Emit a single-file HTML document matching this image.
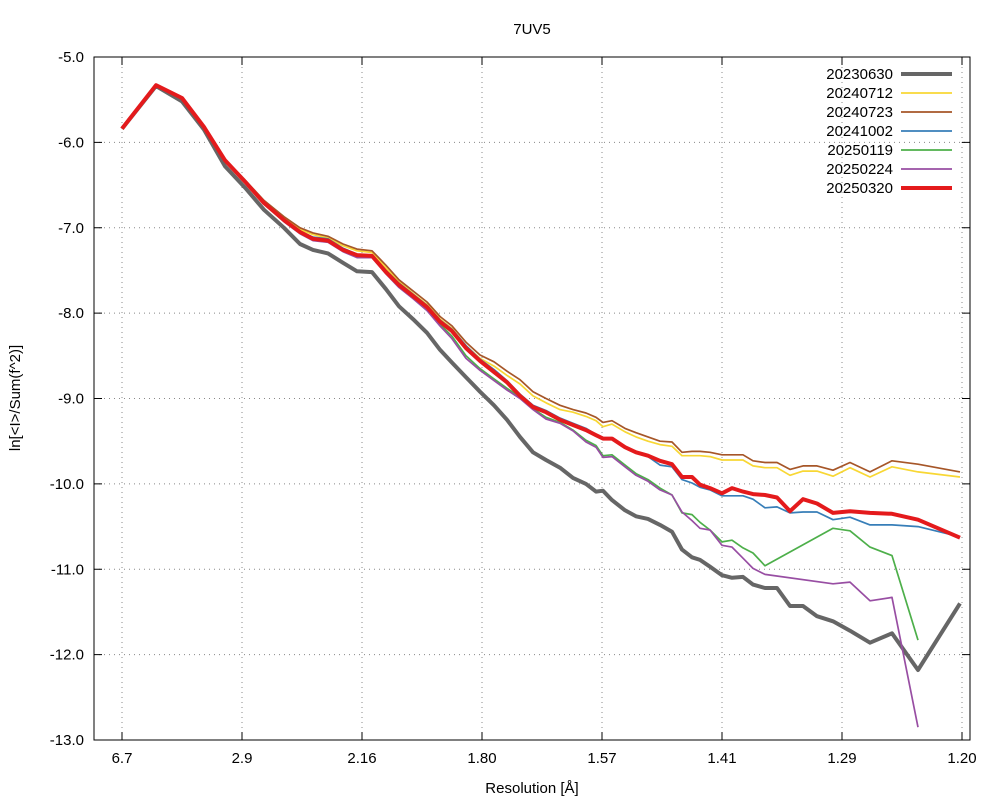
<!DOCTYPE html>
<html><head><meta charset="utf-8"><style>
html,body{margin:0;padding:0;background:#fff;}
svg{display:block;font-family:"Liberation Sans","DejaVu Sans",sans-serif;}
</style></head><body>
<svg id="chart" width="1000" height="800" viewBox="0 0 1000 800"></svg>
<script>
const xTickLabels=["6.7","2.9","2.16","1.80","1.57","1.41","1.29","1.20"];
const yTicks=[-5,-6,-7,-8,-9,-10,-11,-12,-13];
const seriesNames=["20230630","20240712","20240723","20241002","20250119","20250224","20250320"];
const xs=[0,.283,.5,.683,.858,1.025,1.183,1.35,1.483,1.592,1.717,1.842,1.958,2.083,2.2,2.308,2.425,2.542,2.65,2.75,2.867,2.983,3.1,3.208,3.317,3.425,3.533,3.65,3.758,3.867,3.95,4.008,4.083,4.192,4.283,4.383,4.483,4.583,4.667,4.75,4.817,4.9,5.0,5.083,5.175,5.258,5.358,5.458,5.567,5.675,5.792,5.925,6.067,6.233,6.417,6.633,6.983];
const s20230630=[-5.84,-5.34,-5.52,-5.85,-6.28,-6.53,-6.79,-7.00,-7.19,-7.26,-7.30,-7.41,-7.51,-7.52,-7.72,-7.92,-8.07,-8.23,-8.43,-8.58,-8.75,-8.92,-9.08,-9.25,-9.45,-9.63,-9.72,-9.81,-9.93,-10.00,-10.09,-10.08,-10.19,-10.31,-10.38,-10.41,-10.48,-10.56,-10.77,-10.86,-10.89,-10.97,-11.07,-11.10,-11.09,-11.18,-11.22,-11.22,-11.43,-11.43,-11.55,-11.61,-11.72,-11.86,-11.75,-12.18,-11.40];
const s20240712=[-5.84,-5.33,-5.48,-5.82,-6.20,-6.45,-6.69,-6.89,-7.02,-7.08,-7.12,-7.21,-7.27,-7.29,-7.47,-7.63,-7.77,-7.90,-8.07,-8.18,-8.38,-8.53,-8.62,-8.73,-8.83,-8.97,-9.05,-9.13,-9.16,-9.21,-9.26,-9.33,-9.30,-9.39,-9.45,-9.50,-9.54,-9.56,-9.67,-9.67,-9.67,-9.68,-9.72,-9.72,-9.72,-9.79,-9.81,-9.81,-9.90,-9.85,-9.85,-9.91,-9.81,-9.92,-9.80,-9.86,-9.92];
const s20240723=[-5.84,-5.33,-5.48,-5.82,-6.20,-6.44,-6.68,-6.87,-7.00,-7.06,-7.10,-7.19,-7.25,-7.27,-7.44,-7.61,-7.74,-7.87,-8.04,-8.15,-8.34,-8.49,-8.57,-8.68,-8.78,-8.92,-9.00,-9.08,-9.13,-9.17,-9.22,-9.28,-9.26,-9.35,-9.40,-9.45,-9.50,-9.51,-9.63,-9.62,-9.62,-9.63,-9.66,-9.66,-9.66,-9.73,-9.75,-9.75,-9.83,-9.79,-9.79,-9.84,-9.75,-9.86,-9.73,-9.77,-9.86];
const s20241002=[-5.84,-5.33,-5.48,-5.82,-6.21,-6.46,-6.70,-6.90,-7.04,-7.11,-7.13,-7.24,-7.31,-7.32,-7.50,-7.65,-7.78,-7.91,-8.08,-8.19,-8.38,-8.54,-8.66,-8.79,-8.95,-9.08,-9.14,-9.23,-9.29,-9.35,-9.42,-9.46,-9.47,-9.57,-9.63,-9.68,-9.78,-9.80,-9.95,-9.99,-10.04,-10.07,-10.14,-10.14,-10.14,-10.18,-10.28,-10.27,-10.34,-10.33,-10.33,-10.42,-10.39,-10.48,-10.48,-10.50,-10.62];
const s20250119=[-5.84,-5.33,-5.48,-5.82,-6.21,-6.47,-6.72,-6.92,-7.06,-7.14,-7.16,-7.27,-7.34,-7.34,-7.53,-7.69,-7.82,-7.96,-8.13,-8.27,-8.50,-8.65,-8.77,-8.88,-8.98,-9.12,-9.22,-9.28,-9.37,-9.49,-9.55,-9.67,-9.66,-9.78,-9.88,-9.95,-10.05,-10.13,-10.34,-10.36,-10.45,-10.54,-10.68,-10.66,-10.75,-10.81,-10.96,null,null,null,null,-10.52,-10.55,-10.74,-10.84,-11.83,null];
const s20250224=[-5.84,-5.33,-5.48,-5.82,-6.21,-6.47,-6.72,-6.93,-7.07,-7.15,-7.17,-7.28,-7.35,-7.35,-7.54,-7.70,-7.83,-7.97,-8.15,-8.30,-8.53,-8.67,-8.79,-8.90,-9.00,-9.13,-9.24,-9.29,-9.38,-9.51,-9.57,-9.69,-9.68,-9.80,-9.90,-9.97,-10.07,-10.13,-10.33,-10.43,-10.52,-10.54,-10.72,-10.74,-10.87,-10.99,-11.06,null,null,null,null,-11.17,-11.15,-11.37,-11.33,-12.85,null];
const s20250320=[-5.84,-5.33,-5.48,-5.82,-6.21,-6.46,-6.71,-6.91,-7.05,-7.13,-7.15,-7.26,-7.32,-7.33,-7.52,-7.67,-7.80,-7.93,-8.10,-8.21,-8.41,-8.56,-8.69,-8.81,-8.97,-9.10,-9.16,-9.25,-9.31,-9.37,-9.43,-9.47,-9.47,-9.57,-9.63,-9.67,-9.73,-9.77,-9.92,-9.92,-10.01,-10.05,-10.11,-10.05,-10.09,-10.12,-10.13,-10.16,-10.32,-10.18,-10.23,-10.34,-10.32,-10.34,-10.35,-10.42,-10.63];

const svg=document.getElementById('chart');
const NS='http://www.w3.org/2000/svg';
const L=94,R=970,T=57,B=740;
function X(u){return 122+u*120;}
function Y(v){return T+(-5-v)*(B-T)/8;}
function mk(tag,attrs,parent){const e=document.createElementNS(NS,tag);for(const k in attrs)e.setAttribute(k,attrs[k]);(parent||svg).appendChild(e);return e;}

const grid=mk('g',{});


yTicks.forEach((v,i)=>{
  const y=Y(v);
  if(i>0&&i<yTicks.length-1){const g=mk('line',{x1:L,x2:R,y1:y,y2:y,stroke:'#888','stroke-width':1,'stroke-dasharray':'1,4'},grid);
  
  }
  const t1=mk('line',{x1:L,x2:L+8,y1:y,y2:y,stroke:'#000'});
  
  
  const t2=mk('line',{x1:R-8,x2:R,y1:y,y2:y,stroke:'#000'});
  
  
  const tx=mk('text',{x:84,y:y+5,'text-anchor':'end','font-size':15});
  tx.textContent=v.toFixed(1);
  
  
});
xTickLabels.forEach((lab,i)=>{
  const x=X(i);
  const g=mk('line',{x1:x,x2:x,y1:T,y2:B,stroke:'#888','stroke-width':1,'stroke-dasharray':'1,4'},grid);
  
  
  const t1=mk('line',{x1:x,x2:x,y1:B-8,y2:B,stroke:'#000'});
  
  
  const t2=mk('line',{x1:x,x2:x,y1:T,y2:T+8,stroke:'#000'});
  
  
  const tx=mk('text',{x:x,y:763,'text-anchor':'middle','font-size':15});
  tx.textContent=lab;
  
  
});
const frame=mk('rect',{x:L,y:T,width:R-L,height:B-T,fill:'none',stroke:'#000','stroke-width':1});



const colors=['#666666','#f8d734','#a65628','#377eb8','#4daf4a','#984ea3','#e41a1c'];
const widths=[4,1.7,1.7,1.7,1.7,1.7,4];
const allSeries=[s20230630,s20240712,s20240723,s20241002,s20250119,s20250224,s20250320];
allSeries.forEach((arr,si)=>{
  const pts=[];
  arr.forEach((v,i)=>{if(v!==null)pts.push(X(xs[i]).toFixed(1)+','+Y(v).toFixed(1));});
  const pl=mk('polyline',{points:pts.join(' '),fill:'none',stroke:colors[si],'stroke-width':widths[si],'stroke-linejoin':'round'});
  
  
  const ly=74+si*19;
  const lt=mk('text',{x:893,y:ly+5,'text-anchor':'end','font-size':15});
  lt.textContent=seriesNames[si];
  
  
  const ll=mk('line',{x1:901,x2:952,y1:ly,y2:ly,stroke:colors[si],'stroke-width':widths[si]});
  
  
});

const title=mk('text',{x:532,y:34,'text-anchor':'middle','font-size':15});
title.textContent='7UV5';


const xt=mk('text',{x:532,y:793,'text-anchor':'middle','font-size':15});
xt.textContent='Resolution [Å]';


const yt=mk('text',{x:0,y:0,'text-anchor':'middle','font-size':15,transform:'translate(20,398) rotate(-90)'});
yt.textContent='ln[<I>/Sum(f^2)]';


</script>
</body></html>
